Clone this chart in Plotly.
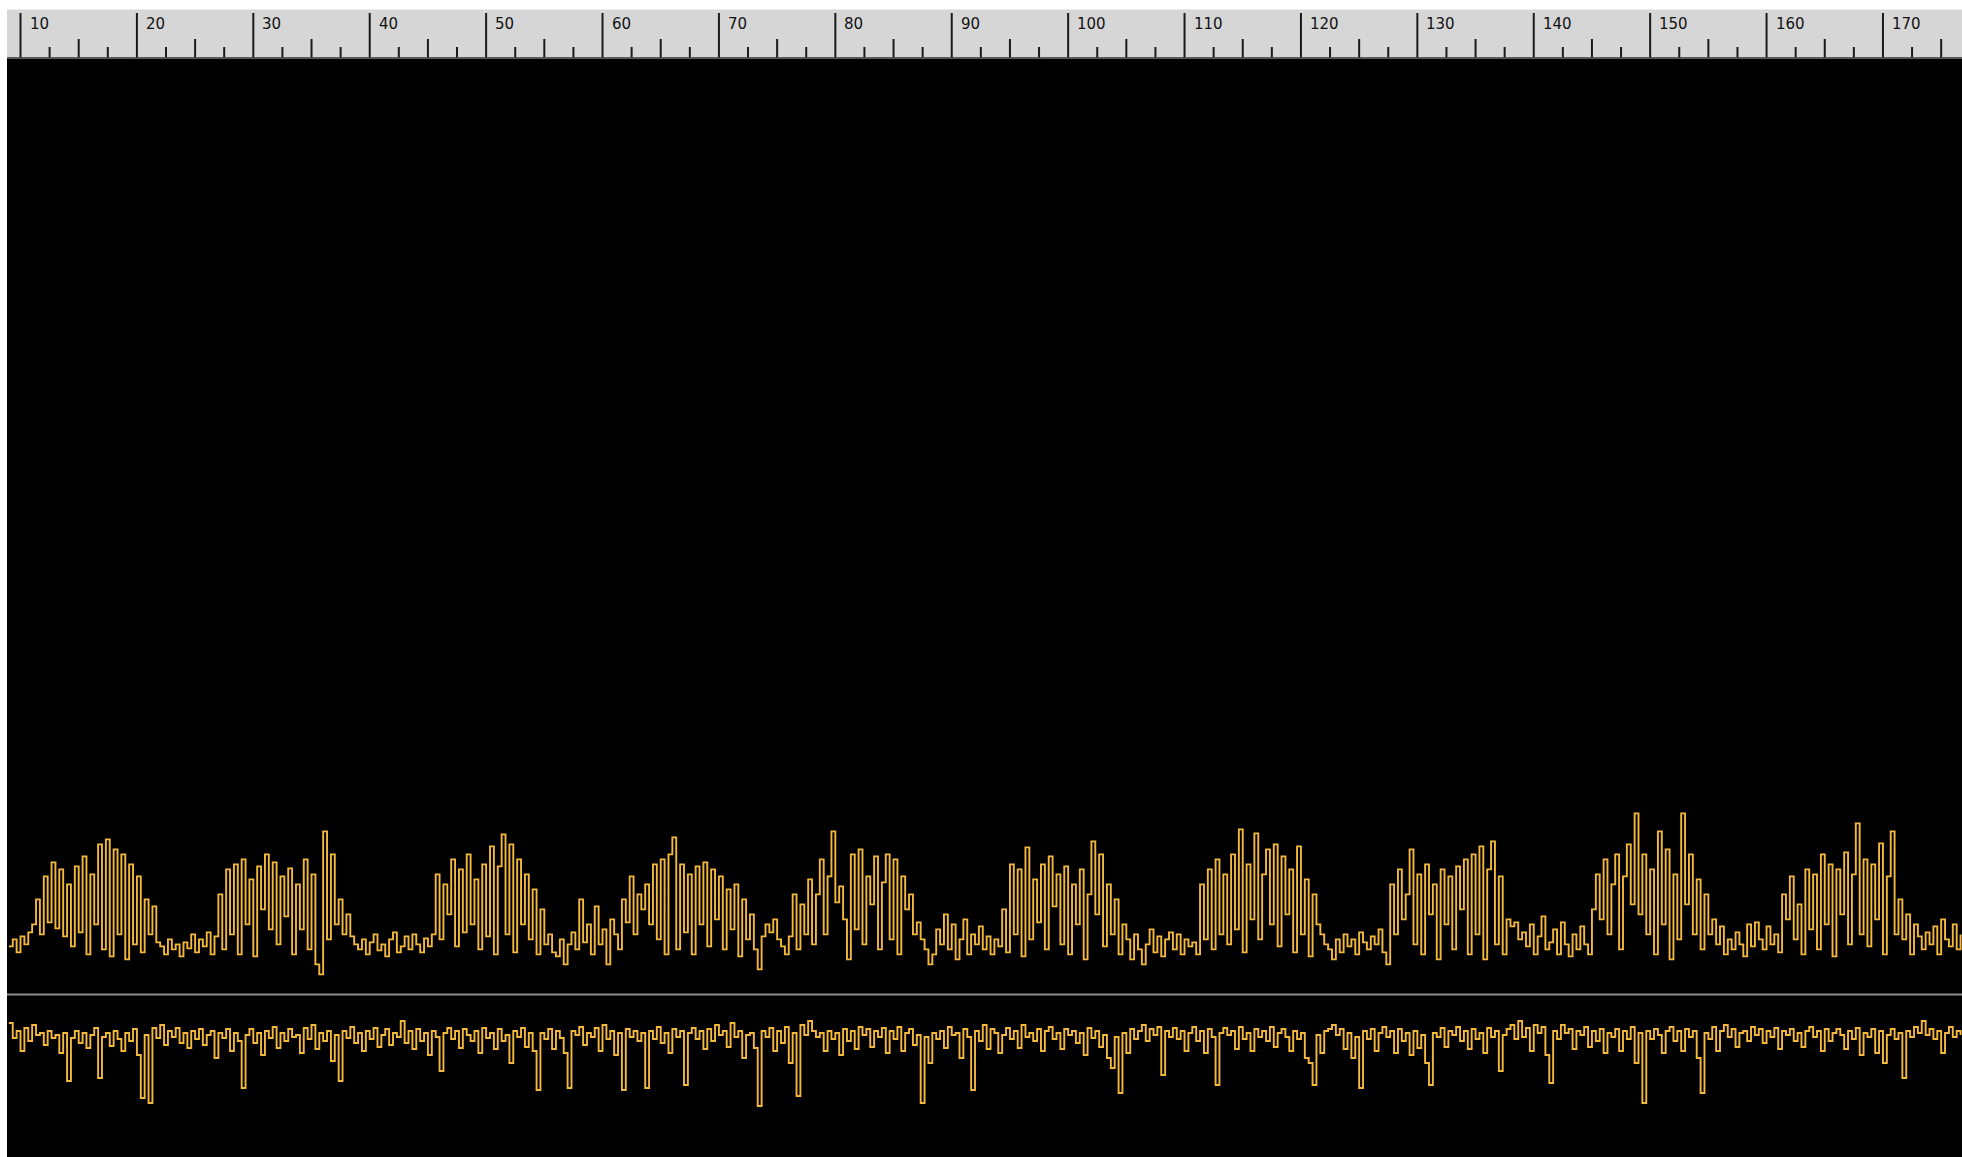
import plotly.graph_objects as go

# ---- sample grid (time axis in ruler units) ----
X_START = 9.0
X_STEP = 1.0 / 3.0

# ---- upper channel: height above the separator (px-like units) ----
upper_vals = [
    48, 55, 42, 58, 50, 62, 70, 95, 60, 118, 72, 132, 66, 125, 58,
    110, 48, 128, 62, 138, 40, 120, 70, 150, 45, 155, 38, 145, 60, 140,
    35, 130, 50, 118, 42, 95, 60, 88, 52, 48, 40, 55, 45, 50, 38,
    52, 46, 60, 42, 55, 48, 62, 40, 58, 100, 45, 125, 60, 130, 40,
    135, 70, 115, 38, 128, 85, 140, 65, 132, 50, 118, 78, 126, 40, 110,
    65, 135, 45, 120, 30, 20, 163, 55, 140, 70, 95, 60, 80, 58, 50,
    45, 55, 40, 52, 60, 44, 50, 38, 55, 62, 42, 48, 58, 45, 60,
    50, 42, 56, 48, 60, 120, 55, 110, 80, 135, 48, 125, 62, 140, 70,
    115, 45, 130, 58, 148, 40, 128, 160, 60, 150, 42, 135, 70, 120, 55,
    105, 40, 85, 50, 60, 42, 38, 55, 30, 50, 62, 45, 95, 52, 70,
    40, 88, 50, 65, 30, 75, 60, 45, 95, 72, 118, 60, 100, 85, 110,
    70, 130, 55, 135, 40, 140, 157, 45, 130, 62, 120, 40, 128, 70, 132,
    48, 125, 75, 118, 45, 105, 65, 110, 38, 95, 55, 80, 45, 25, 58,
    70, 62, 75, 55, 48, 40, 58, 100, 45, 90, 60, 115, 50, 100, 135,
    60, 118, 163, 92, 108, 75, 35, 140, 65, 145, 50, 118, 90, 138, 45,
    112, 140, 55, 135, 40, 118, 85, 100, 60, 72, 55, 45, 30, 40, 65,
    50, 80, 45, 70, 35, 55, 75, 40, 60, 50, 68, 45, 58, 40, 55,
    48, 85, 42, 130, 60, 125, 38, 147, 55, 115, 72, 130, 45, 138, 88,
    120, 50, 128, 40, 110, 70, 125, 35, 100, 153, 80, 140, 48, 110, 60,
    95, 40, 70, 55, 35, 60, 45, 30, 50, 65, 42, 58, 38, 55, 62,
    45, 60, 40, 55, 48, 52, 40, 110, 55, 125, 45, 135, 60, 120, 50,
    140, 65, 165, 42, 130, 75, 161, 55, 120, 145, 70, 150, 48, 138, 80,
    125, 42, 148, 60, 115, 38, 100, 70, 60, 50, 45, 35, 55, 42, 60,
    48, 55, 40, 62, 52, 45, 58, 50, 65, 42, 30, 110, 60, 125, 75,
    100, 145, 50, 120, 40, 130, 80, 110, 35, 125, 70, 118, 45, 128, 85,
    135, 40, 140, 60, 148, 35, 125, 153, 50, 118, 40, 75, 68, 72, 55,
    62, 48, 70, 40, 58, 78, 45, 52, 65, 40, 72, 50, 38, 60, 45,
    68, 50, 40, 85, 120, 75, 135, 60, 110, 140, 45, 118, 150, 90, 181,
    80, 140, 60, 125, 40, 163, 70, 145, 35, 120, 55, 181, 90, 140, 60,
    115, 45, 100, 60, 75, 50, 68, 40, 55, 45, 62, 50, 38, 70, 48,
    72, 55, 45, 68, 50, 60, 42, 100, 75, 118, 55, 90, 40, 125, 65,
    120, 45, 140, 70, 130, 38, 125, 80, 142, 50, 120, 171, 60, 135, 48,
    130, 75, 151, 40, 118, 163, 60, 95, 55, 80, 40, 70, 58, 45, 62,
    50, 68, 40, 75, 55, 48, 70, 45, 60,
]

# ---- lower channel: displacement around its centre line ----
lower_vals = [
    20, 5, 12, -8, 15, 2, 18, 8, 10, -2, 12, 5, 8, -10, 10,
    -38, 5, 12, 0, 10, -5, 8, 15, -35, 6, 10, -3, 12, 4, -8,
    10, 2, 14, -12, -55, 8, -60, 15, 5, 18, -2, 12, 6, 15, 0,
    10, -5, 12, 4, 14, -2, 8, 12, -15, 10, 5, 14, -8, 10, 2,
    -45, 8, 14, 0, 10, -12, 12, 5, 16, -5, 10, 2, 14, 6, 8,
    -10, 15, 4, 18, -6, 10, 2, 12, -18, 8, -38, 12, 5, 16, 0,
    10, -8, 12, 4, 15, -4, 8, 14, -2, 10, 6, 22, 0, 12, -6,
    14, 2, 10, -12, 12, 6, -28, 10, 15, 4, 12, -5, 14, 8, 2,
    12, -10, 15, 5, 10, -6, 14, 2, 8, -20, 12, 6, 15, -4, 10,
    -8, -47, 10, 4, 14, -6, 12, 5, -10, -45, 12, 8, 16, -2, 10,
    6, 15, -8, 18, 4, 12, -12, 10, -47, 14, 6, 12, 2, 10, -45,
    12, 4, 16, 0, 10, -10, 14, 6, 12, -42, 10, 15, 4, 12, -6,
    14, 2, 18, 8, 12, -4, 20, 6, 12, -15, 8, 10, -5, -63, 12,
    6, 15, -8, 12, 0, 16, -20, 10, -53, 18, 8, 22, 12, 6, 10,
    -8, 12, 4, 10, -12, 14, 2, 12, -6, 16, 8, 14, -4, 12, 6,
    15, -10, 12, 4, 16, -8, 10, 14, -2, 8, -60, 6, -20, 10, 4,
    12, -5, 16, 8, 10, -15, 14, 6, -47, 12, 2, 18, -6, 14, 10,
    -10, 8, 15, 4, 12, -5, 18, 6, 10, 2, 14, -8, 12, 16, 4,
    10, -6, 14, 8, 12, 0, 10, -12, 15, 5, 12, -4, 8, -15, -25,
    6, -50, 10, -10, 14, 4, 12, 18, 2, 14, 8, 16, -32, 12, 6,
    15, 4, 12, -8, 10, 16, 2, 12, -10, 14, 6, -42, 10, 15, 8,
    12, -6, 16, 4, 10, -8, 14, 6, 12, 2, 16, -4, 10, 14, 6,
    -8, 12, 4, 10, -15, -20, -42, 8, -10, 12, 14, 18, 8, 14, -6,
    10, -15, 6, -45, 12, 4, 14, -8, 10, 16, 6, 12, -10, 14, 2,
    10, -12, 12, -5, 8, -20, -42, 10, 6, 15, -4, 12, 8, 16, 2,
    12, -6, 14, 4, 10, -10, 15, 6, 12, -28, 8, 14, 18, 4, 22,
    6, 15, -8, 18, 10, 16, -12, -40, 12, 4, 18, 10, 14, -6, 12,
    8, 16, -4, 12, 2, 14, -10, 10, 6, 14, -8, 12, 4, 16, -20,
    10, -60, 12, 4, 14, 8, -10, 12, 16, 2, 12, -8, 14, 6, 12,
    -15, -50, 10, 4, 16, -8, 12, 18, 6, 14, -4, 10, 12, 2, 16,
    8, 14, 0, 12, 6, 15, -6, 12, 8, 14, 2, 10, -4, 12, 16,
    6, 12, -8, 14, 2, 10, 14, 8, -6, 12, 4, 15, -12, 10, 6,
    14, -10, 12, -20, 8, 14, 4, 10, -35, 12, 6, 16, 10, 22, 8,
    14, 4, 12, -10, 10, 16, 6, 12, 8,
]

# ---- ruler ----
major_ticks = [10, 20, 30, 40, 50, 60, 70, 80, 90, 100, 110, 120, 130, 140, 150, 160, 170]
major_labels = ["10", "20", "30", "40", "50", "60", "70", "80", "90", "100",
                "110", "120", "130", "140", "150", "160", "170"]
mid_ticks = [15, 25, 35, 45, 55, 65, 75, 85, 95, 105, 115, 125, 135, 145, 155, 165, 175]
short_ticks = [12.5, 17.5, 22.5, 27.5, 32.5, 37.5, 42.5, 47.5, 52.5, 57.5, 62.5, 67.5,
               72.5, 77.5, 82.5, 87.5, 92.5, 97.5, 102.5, 107.5, 112.5, 117.5, 122.5,
               127.5, 132.5, 137.5, 142.5, 147.5, 152.5, 157.5, 162.5, 167.5, 172.5]

W, H = 1962, 1157
LEFT = 7
RULER_TOP, RULER_BOT, SEP = 9.5, 57.5, 994.4
LOWER_CENTRE = 1043


def py(pix):
    return (H - pix) / H


xs_u = [X_START + X_STEP * i for i in range(len(upper_vals))]
xs_l = [X_START + X_STEP * i for i in range(len(lower_vals))]

WAVE = "#f3b83c"

fig = go.Figure()
fig.add_trace(go.Scatter(x=xs_u, y=upper_vals, mode="lines", xaxis="x", yaxis="y",
                         line=dict(color=WAVE, width=1.9, shape="hv"), hoverinfo="skip"))
fig.add_trace(go.Scatter(x=xs_l, y=lower_vals, mode="lines", xaxis="x", yaxis="y2",
                         line=dict(color=WAVE, width=1.9, shape="hv"), hoverinfo="skip"))

shapes = [
    dict(type="rect", xref="paper", yref="paper", x0=LEFT / W, x1=1, y0=0, y1=py(RULER_BOT),
         fillcolor="black", line=dict(width=0), layer="below"),
    dict(type="rect", xref="paper", yref="paper", x0=LEFT / W, x1=1, y0=py(RULER_BOT), y1=py(RULER_TOP),
         fillcolor="#d6d6d6", line=dict(width=0), layer="below"),
    dict(type="line", xref="paper", yref="paper", x0=LEFT / W, x1=1, y0=py(RULER_BOT + 0.5), y1=py(RULER_BOT + 0.5),
         line=dict(color="#5a5a5a", width=2)),
    dict(type="line", xref="paper", yref="paper", x0=LEFT / W, x1=1, y0=py(SEP), y1=py(SEP),
         line=dict(color="#8c8c8c", width=2)),
]
for t in major_ticks:
    shapes.append(dict(type="line", xref="x", yref="paper", x0=t, x1=t, y0=py(RULER_BOT), y1=py(13),
                       line=dict(color="#1a1a1a", width=2)))
for t in mid_ticks:
    shapes.append(dict(type="line", xref="x", yref="paper", x0=t, x1=t, y0=py(RULER_BOT), y1=py(39),
                       line=dict(color="#1a1a1a", width=2)))
for t in short_ticks:
    shapes.append(dict(type="line", xref="x", yref="paper", x0=t, x1=t, y0=py(RULER_BOT), y1=py(47),
                       line=dict(color="#1a1a1a", width=2)))

annotations = [
    dict(x=t, xref="x", y=py(24), yref="paper", text=lab, showarrow=False,
         xanchor="left", yanchor="middle", xshift=7,
         font=dict(family="DejaVu Sans", size=15, color="#111111"))
    for t, lab in zip(major_ticks, major_labels)
]

fig.update_layout(
    width=W, height=H, autosize=False,
    margin=dict(l=0, r=0, t=0, b=0),
    paper_bgcolor="white", plot_bgcolor="black",
    showlegend=False,
    xaxis=dict(domain=[LEFT / W, 1], range=[8.84, 176.79], visible=False, fixedrange=True),
    yaxis=dict(domain=[py(SEP), py(RULER_BOT)], range=[0, SEP - RULER_BOT], visible=False, fixedrange=True),
    yaxis2=dict(domain=[0, py(SEP)], range=[-(H - LOWER_CENTRE), LOWER_CENTRE - SEP],
                visible=False, fixedrange=True),
    shapes=shapes,
    annotations=annotations,
)

fig.write_html(
    "out.html",
    config={"displayModeBar": False},
    post_script="document.body.style.margin='0px';document.body.style.overflow='hidden';",
)
